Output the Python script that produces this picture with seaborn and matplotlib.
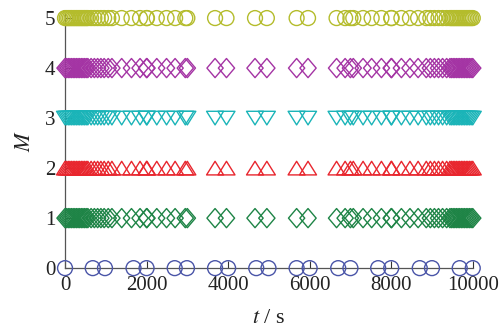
import numpy as np
import pandas as pd
import matplotlib
matplotlib.use("Agg")
import matplotlib.pyplot as plt
import seaborn as sns
from matplotlib.path import Path

# sampling instants (s) for the level M = 0 and for the levels M = 1..5
t_base = [0, 680, 980, 1680, 2000, 2690, 2990, 3680, 4000, 4690, 4990,
          5680, 6000, 6700, 7000, 7680, 8000, 8700, 9000, 9680, 10000]
t_levels = [0, 40, 80, 120, 160, 200, 240, 280, 320, 360, 400, 440, 480,
            520, 560, 640, 720, 800, 880, 960, 1060, 1150, 1390, 1630, 1840,
            2000, 2010, 2250, 2490, 2700, 2950, 3000, 3680, 3960, 4660, 4950,
            5680, 5960, 6660, 6870, 7000, 7070, 7310, 7520, 7760, 8000, 8010,
            8250, 8460, 8660, 8860, 8960, 9060, 9160, 9260, 9360, 9440, 9480,
            9520, 9560, 9600, 9640, 9680, 9720, 9760, 9800, 9840, 9880, 9920,
            9960, 10000]
levels = [0, 1, 2, 3, 4, 5]
colors = ["#4a55a8", "#1e8446", "#e8262e", "#1ab4b8", "#a434a4", "#b4bc2c"]

diamond = Path([(0, 1), (0.85, 0), (0, -1), (-0.85, 0), (0, 1)],
               [Path.MOVETO, Path.LINETO, Path.LINETO, Path.LINETO, Path.CLOSEPOLY])
tri_up = Path([(-1, -0.8), (1, -0.8), (0, 0.8), (-1, -0.8)],
              [Path.MOVETO, Path.LINETO, Path.LINETO, Path.CLOSEPOLY])
tri_down = Path([(-1, 0.8), (1, 0.8), (0, -0.8), (-1, 0.8)],
                [Path.MOVETO, Path.LINETO, Path.LINETO, Path.CLOSEPOLY])
markers = ["o", diamond, tri_up, tri_down, diamond, "o"]
sizes = [115, 190, 150, 150, 190, 115]

sns.set_theme(style="ticks")
plt.rcParams["font.family"] = ["Liberation Serif", "DejaVu Serif"]
plt.rcParams["mathtext.fontset"] = "stix"

fig = plt.figure(figsize=(5.04, 3.27), dpi=100)
ax = fig.add_axes([0.129, 0.180, 0.809, 0.777])

for lev, col, mk, sz in zip(levels, colors, markers, sizes):
    t = t_base if lev == 0 else t_levels
    df = pd.DataFrame({"t": t, "M": [lev] * len(t)})
    sns.scatterplot(data=df, x="t", y="M", ax=ax, marker=mk, s=sz,
                    legend=False, clip_on=False, zorder=3)
    coll = ax.collections[-1]
    coll.set_facecolor("none")
    coll.set_edgecolor(col)
    coll.set_linewidth(1.0)

ax.set_xlim(0, 10000)
ax.set_ylim(0, 5.08)
ax.set_xticks([0, 2000, 4000, 6000, 8000, 10000])
ax.set_yticks(levels)
ax.tick_params(direction="in", length=5, width=0.8, labelsize=15,
               colors="#333333", labelcolor="#222222")
ax.tick_params(axis="x", pad=6)
ax.tick_params(axis="y", pad=7)
for side in ("top", "right"):
    ax.spines[side].set_visible(False)
for side in ("left", "bottom"):
    ax.spines[side].set_color("#555555")
    ax.spines[side].set_linewidth(0.9)

ax.set_xlabel(r"$t$ / s", fontsize=16, labelpad=10, color="#222222")
ax.set_ylabel(r"$M$", fontsize=16, labelpad=7, color="#222222")

fig.savefig("out.png", dpi=100)
